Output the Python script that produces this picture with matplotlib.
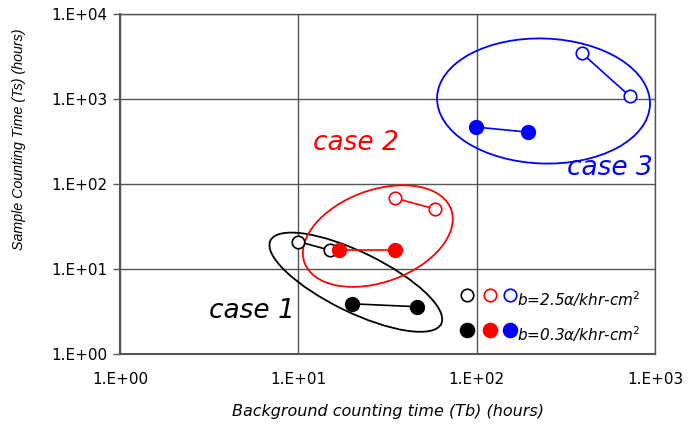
import matplotlib
matplotlib.use('Agg')
import matplotlib.pyplot as plt
from matplotlib.patches import Ellipse
from matplotlib.transforms import ScaledTranslation

plt.rcParams['font.family'] = ['DejaVu Sans']

# data: (Tb, Ts) pairs per case, open = b=2.5, filled = b=0.3
case1_open_tb = [10, 15]
case1_open_ts = [21, 16.7]
case1_fill_tb = [20, 46.5]
case1_fill_ts = [3.9, 3.6]

case2_open_tb = [35, 58]
case2_open_ts = [68, 51]
case2_fill_tb = [17, 34.8]
case2_fill_ts = [16.7, 16.7]

case3_open_tb = [388, 720]
case3_open_ts = [3470, 1085]
case3_fill_tb = [98.7, 193]
case3_fill_ts = [468, 408]

# grouping ellipses: centre (Tb, Ts), width/height in pixels, angle in degrees
ell_centres = [(21, 7.0), (27.9, 24.4), (237, 947)]
ell_sizes = [(190, 60, -26), (156, 92, 20), (213, 125, -2)]
colors = ['black', '#ff0000', '#0000ff']
case_labels = ['case 1', 'case 2', 'case 3']
label_pos = [(5.49, 3.2), (21.0, 303), (556, 154)]

fig = plt.figure(figsize=(6.99, 4.24), dpi=100)
ax = fig.add_axes([0.1717, 0.165, 0.7654, 0.802])
ax.set_xscale('log')
ax.set_yscale('log')
ax.set_xlim(1, 1000)
ax.set_ylim(1, 10000)

ax.set_xticks([1, 10, 100, 1000])
ax.set_xticklabels(['1.E+00', '1.E+01', '1.E+02', '1.E+03'])
ax.set_yticks([1, 10, 100, 1000, 10000])
ax.set_yticklabels(['1.E+00', '1.E+01', '1.E+02', '1.E+03', '1.E+04'])
ax.minorticks_off()
ax.tick_params(axis='x', length=0, pad=13, labelsize=11)
ax.tick_params(axis='y', length=5, width=1, color='#555555', pad=4, labelsize=11)
ax.grid(True, color='#555555', linewidth=1)
for s in ax.spines.values():
    s.set_color('#555555')
    s.set_linewidth(1)
ax.spines['left'].set_linewidth(1.5)
ax.spines['bottom'].set_linewidth(1.5)

ax.set_xlabel('Background counting time (Tb) (hours)', style='italic', fontsize=11.5, labelpad=12)
ax.set_ylabel('Sample Counting Time (Ts) (hours)', style='italic', fontsize=10.3,
              family='Liberation Sans')
ax.yaxis.set_label_coords(-0.176, 0.632)

opens = [(case1_open_tb, case1_open_ts), (case2_open_tb, case2_open_ts), (case3_open_tb, case3_open_ts)]
fills = [(case1_fill_tb, case1_fill_ts), (case2_fill_tb, case2_fill_ts), (case3_fill_tb, case3_fill_ts)]

for (otb, ots), (ftb, fts), c in zip(opens, fills, colors):
    ax.plot(otb, ots, '-o', color=c, lw=1.2, markersize=9, markerfacecolor='white',
            markeredgecolor=c, markeredgewidth=1.2, zorder=4)
    ax.plot(ftb, fts, '-o', color=c, lw=1.2, markersize=10, markerfacecolor=c,
            markeredgecolor=c, zorder=4)

for (cx, cy), (w, h, ang), c in zip(ell_centres, ell_sizes, colors):
    tr = fig.dpi_scale_trans + ScaledTranslation(cx, cy, ax.transData)
    e = Ellipse((0, 0), w / 100, h / 100, angle=ang, transform=tr,
                fill=False, edgecolor=c, lw=1.3, zorder=3)
    ax.add_patch(e)

for lab, (lx, ly), c in zip(case_labels, label_pos, colors):
    ax.text(lx, ly, lab, color=c, style='italic', fontsize=19, ha='center', va='center')

# manual legend
leg_x = [0.648, 0.691, 0.729]
for row_y, face_open, label in [(0.1735, True, 'b=2.5$\\alpha$/khr-cm$^2$'),
                                (0.0706, False, 'b=0.3$\\alpha$/khr-cm$^2$')]:
    for lx, c in zip(leg_x, colors):
        ax.plot(lx, row_y, 'o', transform=ax.transAxes, color=c,
                markersize=9 if face_open else 10,
                markerfacecolor='white' if face_open else c,
                markeredgecolor=c, markeredgewidth=1.2, clip_on=False, zorder=5)
    ax.text(0.742, row_y - 0.012, label, transform=ax.transAxes, style='italic',
            fontsize=11, va='center', ha='left')

fig.savefig('out.png', dpi=100)
